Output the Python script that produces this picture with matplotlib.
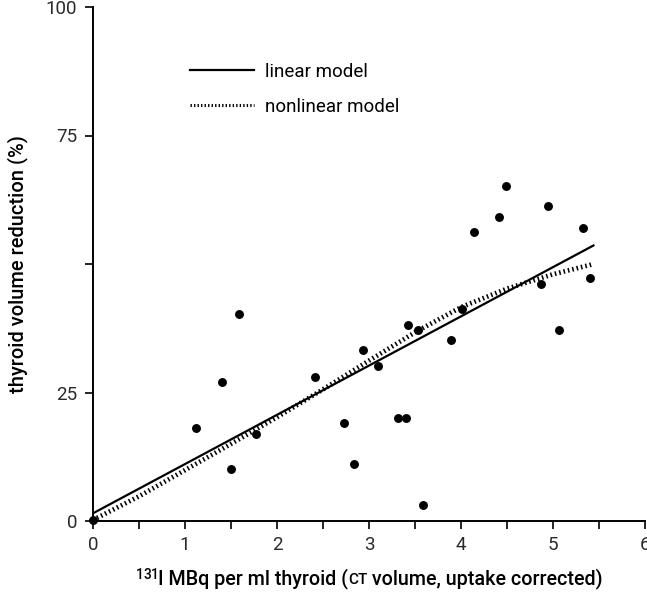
import matplotlib
matplotlib.use("Agg")
import matplotlib.pyplot as plt
from matplotlib.lines import Line2D
from matplotlib.offsetbox import TextArea, HPacker, AnchoredOffsetbox

plt.rcParams['font.family'] = ['Roboto', 'DejaVu Sans']
plt.rcParams['mathtext.fontset'] = 'custom'
plt.rcParams['mathtext.rm'] = 'Roboto'

# ---- data ----
dose_x = [0.0, 1.12, 1.40, 1.50, 1.59, 1.77, 2.41, 2.73, 2.84, 2.94, 3.10,
          3.31, 3.40, 3.42, 3.53, 3.59, 3.89, 4.01, 4.14, 4.41, 4.49,
          4.87, 4.95, 5.07, 5.33, 5.40]
reduction_y = [0.2, 18.1, 27.0, 10.1, 40.3, 16.9, 28.1, 19.1, 11.1, 33.2, 30.1,
               20.1, 20.1, 38.1, 37.2, 3.2, 35.2, 41.3, 56.2, 59.1, 65.2,
               46.1, 61.3, 37.2, 57.1, 47.3]

linear_x = [0.0, 5.45]
linear_y = [1.5, 53.7]

nonlin_x = [0.0, 0.5, 1.0, 1.5, 2.0, 2.5, 3.0, 3.5, 4.0, 4.5, 5.0, 5.42]
nonlin_y = [0.2, 4.8, 9.9, 15.0, 20.2, 25.6, 31.2, 36.7, 41.6, 45.2, 48.0, 49.9]

x_ticks = [0, 1, 2, 3, 4, 5, 6]
x_minor = [0.5, 1.5, 2.5, 3.5, 4.5, 5.5]
y_ticks = [0, 25, 50, 75, 100]
y_ticklabels = ['0', '25', '', '75', '100']
legend_labels = ['linear model', 'nonlinear model']

W, H = 647, 595
fig = plt.figure(figsize=(W / 100, H / 100), dpi=100)
ax = fig.add_axes([93 / W, 1 - 521 / H, (645 - 93) / W, (521 - 7) / H])

ax.plot(linear_x, linear_y, color='black', lw=1.6, solid_capstyle='butt')
nl, = ax.plot(nonlin_x, nonlin_y, color='black', lw=3.4, dash_capstyle='butt')
nl.set_dashes([0.33, 0.62])
ax.plot(dose_x, reduction_y, 'o', color='black', ms=5.4, clip_on=False, zorder=5)

ax.set_xlim(0, 6)
ax.set_ylim(0, 100)
ax.set_xticks(x_ticks)
ax.set_xticks(x_minor, minor=True)
ax.set_yticks(y_ticks)
ax.set_yticklabels(y_ticklabels)

for s in ['top', 'right']:
    ax.spines[s].set_visible(False)
for s in ['left', 'bottom']:
    ax.spines[s].set_linewidth(1.4)
    ax.spines[s].set_color('black')

ax.tick_params(axis='both', which='both', direction='out', width=1.2,
               length=5.5, labelsize=13.5, colors='black')
ax.tick_params(axis='x', which='major', pad=5)
ax.tick_params(axis='y', pad=6)
for lab in ax.get_xticklabels() + ax.get_yticklabels():
    lab.set_color('#2a2a2a')
    lab.set_fontweight('normal')

ax.set_ylabel('thyroid volume reduction (%)', fontsize=14.5, fontweight='medium')
ax.yaxis.set_label_coords(-0.118, 0.5)

# x-label with superscript and small caps
fs = 14.2
kw = dict(fontsize=fs, fontweight='medium')
parts = [
    TextArea(r'$\mathregular{^{131}}$', textprops=kw),
    TextArea('I MBq per ml thyroid (', textprops=kw),
    TextArea('CT', textprops=dict(fontsize=fs * 0.78, fontweight='medium')),
    TextArea(' volume, uptake corrected)', textprops=kw),
]
box = HPacker(children=parts, align='baseline', pad=0, sep=0)
anch = AnchoredOffsetbox(loc='center', child=box, frameon=False, pad=0,
                         bbox_to_anchor=(0.5, -0.111), bbox_transform=ax.transAxes,
                         borderpad=0)
ax.add_artist(anch)

# legend
h1 = Line2D([], [], color='black', lw=1.6)
h2 = Line2D([], [], color='black', lw=2.2, dash_capstyle='butt')
h2.set_dashes([0.45, 0.7])
leg = ax.legend([h1, h2], legend_labels, loc='upper left',
                bbox_to_anchor=(0.176, 0.892), frameon=False, borderpad=0,
                borderaxespad=0, handlelength=3.4, handletextpad=0.58,
                labelspacing=0.92, fontsize=13.5)

fig.savefig('out.png', dpi=100)
